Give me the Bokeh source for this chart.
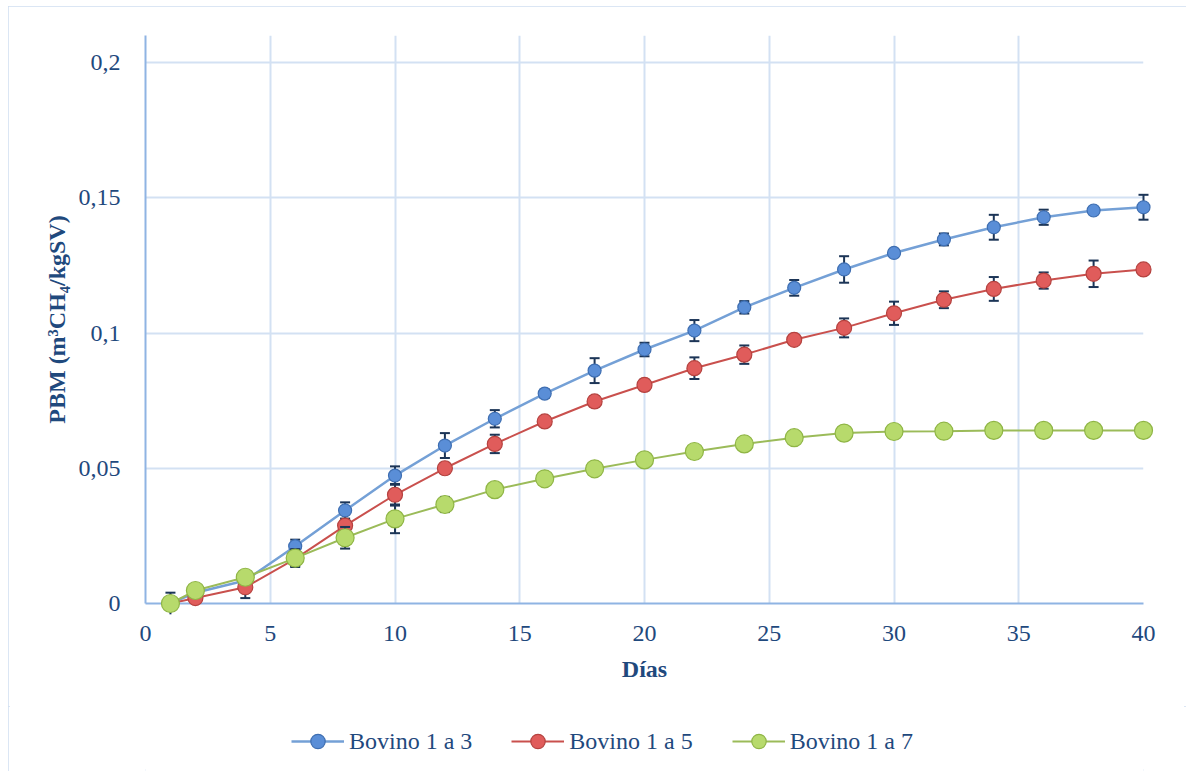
from bokeh.plotting import figure
from bokeh.models import Range1d, Legend, LegendItem
from bokeh.layouts import column
from bokeh.embed import file_html
from bokeh.resources import INLINE

# ---- data ----
dias = [1, 2, 4, 6, 8, 10, 12, 14, 16, 18, 20, 22, 24, 26, 28, 30, 32, 34, 36, 38, 40]

bovino_1a3 = [0.0, 0.004, 0.0085, 0.0212, 0.0344, 0.0473, 0.0584, 0.0683, 0.0776, 0.0861,
              0.0939, 0.1009, 0.1095, 0.1167, 0.1235, 0.1296, 0.1346, 0.1391, 0.1428, 0.1453, 0.1465]
bovino_1a3_err = [0.004, 0.001, 0.002, 0.0024, 0.003, 0.0034, 0.0046, 0.0032, 0.0015, 0.0046,
                  0.0025, 0.0039, 0.0023, 0.0029, 0.0049, 0.0015, 0.0022, 0.0046, 0.0028, 0.0012, 0.0046]

bovino_1a5 = [0.0, 0.002, 0.006, 0.0165, 0.0288, 0.0402, 0.050, 0.059, 0.0673, 0.0747,
              0.0808, 0.087, 0.092, 0.0975, 0.1019, 0.1073, 0.1123, 0.1163, 0.1194, 0.1219, 0.1235]
bovino_1a5_err = [0.001, 0.001, 0.004, 0.0025, 0.002, 0.004, 0.002, 0.0034, 0.0015, 0.002,
                  0.002, 0.004, 0.0034, 0.0015, 0.0035, 0.0043, 0.0031, 0.0044, 0.003, 0.0049, 0.0015]

bovino_1a7 = [0.0, 0.0048, 0.0097, 0.0168, 0.0243, 0.0313, 0.0366, 0.0421, 0.0461, 0.0498,
              0.0531, 0.0562, 0.059, 0.0613, 0.063, 0.0636, 0.0637, 0.064, 0.064, 0.064, 0.064]
bovino_1a7_err = [0.001, 0.001, 0.002, 0.0033, 0.004, 0.0053, 0.0028, 0.002, 0.002, 0.002,
                  0.002, 0.002, 0.002, 0.002, 0.002, 0.002, 0.002, 0.002, 0.002, 0.002, 0.002]

series_names = ["Bovino 1 a 3", "Bovino 1 a 5", "Bovino 1 a 7"]

x_ticks = [0, 5, 10, 15, 20, 25, 30, 35, 40]
y_ticks = [0, 0.05, 0.1, 0.15, 0.2]
y_tick_labels = ["0", "0,05", "0,1", "0,15", "0,2"]

# ---- styles ----
TEXT = "#1f497d"
FONT = "Liberation Serif"
ERR = "#1c3557"
styles = [
    dict(line="#74a0d6", fill="#5a8ed7", edge="#3e6eb1", size=13, lw=2.5),
    dict(line="#c9504d", fill="#e05c5b", edge="#b5423f", size=15, lw=2),
    dict(line="#9bbb59", fill="#b7da6c", edge="#8fb545", size=18, lw=2),
]

W, H1, H2 = 1178, 700, 65

p = figure(width=W, height=H1, output_backend="svg", toolbar_location=None,
           x_range=Range1d(0, 40), y_range=Range1d(0, 0.21),
           min_border_left=137, min_border_right=43, min_border_top=29,
           min_border_bottom=H1 - 597)
p.outline_line_color = None
p.background_fill_color = "white"
p.border_fill_color = "white"

# grid
for g in (p.xgrid, p.ygrid):
    g.grid_line_color = "#d3e1f3"
    g.grid_line_width = 2

# axes
p.xaxis.ticker = x_ticks
p.yaxis.ticker = y_ticks
p.yaxis.major_label_overrides = dict(zip(y_ticks, y_tick_labels))
for ax in (p.xaxis[0], p.yaxis[0]):
    ax.axis_line_color = "#8fb4e3"
    ax.axis_line_width = 2
    ax.major_tick_line_color = None
    ax.minor_tick_line_color = None
    ax.major_tick_out = 0
    ax.major_tick_in = 0
    ax.major_label_text_font = FONT
    ax.major_label_text_font_size = "24px"
    ax.major_label_text_color = TEXT
    ax.axis_label_text_font = FONT
    ax.axis_label_text_font_size = "24px"
    ax.axis_label_text_font_style = "bold"
    ax.axis_label_text_color = TEXT
p.yaxis.major_label_standoff = 25
p.xaxis.major_label_standoff = 22
p.xaxis.axis_label = "Días"
p.yaxis.axis_label = "PBM (m³CH₄/kgSV)"
p.xaxis.axis_label_standoff = 12
p.yaxis.axis_label_standoff = 6

data = [(bovino_1a3, bovino_1a3_err), (bovino_1a5, bovino_1a5_err), (bovino_1a7, bovino_1a7_err)]
for (vals, errs), st in zip(data, styles):
    lo = [v - e for v, e in zip(vals, errs)]
    hi = [v + e for v, e in zip(vals, errs)]
    p.line(dias, vals, line_color=st["line"], line_width=st["lw"])
    p.segment(dias, lo, dias, hi, line_color=ERR, line_width=2, level="overlay")
    p.scatter(dias, lo, marker="dash", size=10, line_color=ERR, line_width=2, level="overlay")
    p.scatter(dias, hi, marker="dash", size=10, line_color=ERR, line_width=2, level="overlay")
    p.scatter(dias, vals, marker="circle", size=st["size"], fill_color=st["fill"],
              line_color=st["edge"], line_width=1.2, level="overlay")

# ---- legend strip (hidden copies of the series supply the legend glyphs) ----
lf = figure(width=W, height=H2, output_backend="svg", toolbar_location=None,
            x_axis_location=None, y_axis_location=None,
            min_border_left=0, min_border_right=0, min_border_top=0, min_border_bottom=0)
lf.outline_line_color = None
lf.xgrid.visible = False
lf.ygrid.visible = False
items = []
for (vals, errs), st, name in zip(data, styles, series_names):
    ln = lf.line(dias, vals, line_color=st["line"], line_width=st["lw"], visible=False)
    mk = lf.scatter(dias, vals, marker="circle", size=st["size"], fill_color=st["fill"],
                    line_color=st["edge"], line_width=1.2, visible=False)
    items.append(LegendItem(label=name, renderers=[ln, mk]))
legend = Legend(items=items, orientation="horizontal", location=(146, 12),
                glyph_width=53, glyph_height=36, label_height=24, label_standoff=5,
                spacing=39, padding=0, margin=0, inactive_fill_alpha=0,
                label_text_font=FONT, label_text_font_size="24px", label_text_color=TEXT,
                border_line_color=None, background_fill_alpha=0)
lf.add_layout(legend)

layout = column(p, lf, spacing=0)
layout.styles = {"outline": "2px solid #cfdef1", "outline-offset": "-2px",
                 "position": "relative", "left": "8px", "top": "6px"}

open("out.html", "w").write(file_html(layout, INLINE))
